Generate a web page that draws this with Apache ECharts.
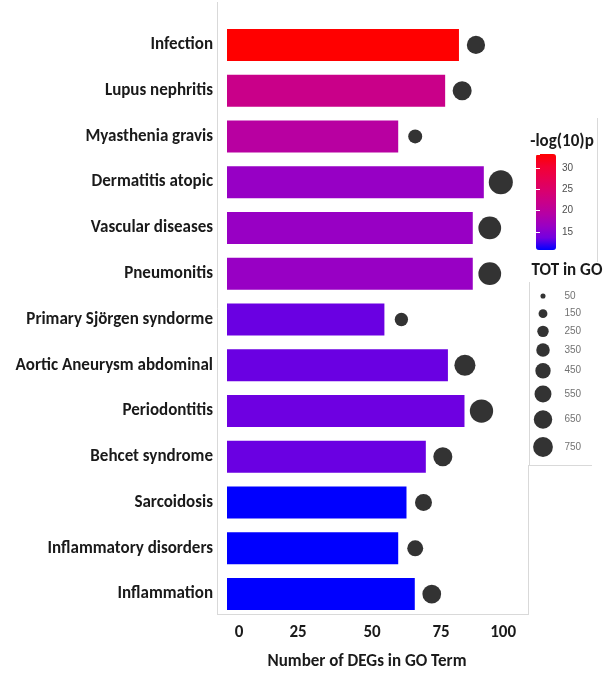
<!DOCTYPE html>
<html>
<head>
<meta charset="utf-8">
<script src="https://cdn.jsdelivr.net/npm/echarts@6/dist/echarts.min.js"></script>
<style>
  html, body { margin: 0; padding: 0; background: #ffffff; }
  #chart { width: 604px; height: 675px; }
</style>
</head>
<body>
<div id="chart"></div>
<script>
// Enriched disease terms, listed top to bottom
const terms = [
  'Infection', 'Lupus nephritis', 'Myasthenia gravis', 'Dermatitis atopic',
  'Vascular diseases', 'Pneumonitis', 'Primary Sjörgen syndorme',
  'Aortic Aneurysm abdominal', 'Periodontitis', 'Behcet syndrome',
  'Sarcoidosis', 'Inflammatory disorders', 'Inflammation'
];
// Number of DEGs in each term (bar length)
const degCount = [84, 79, 62, 93, 89, 89, 57, 80, 86, 72, 65, 62, 68];
// -log10(p) of each term (bar colour)
const negLogP = [33.3, 22.0, 19.6, 16.2, 16.3, 16.3, 13.4, 13.4, 13.5, 13.4, 10.8, 10.8, 10.8];
// Total genes annotated to each term (bubble size)
const totInGO = [450, 490, 265, 780, 700, 700, 240, 600, 735, 490, 390, 345, 475];

// Axis and legend ticks
const xTicks = [0, 25, 50, 75, 100];
const sizeLegendValues = [50, 150, 250, 350, 450, 550, 650, 750];

// Lab-like blue -> red ramp
const rampColors = ['#0000FF', '#7300E0', '#9A00C3', '#B500A5', '#C90089',
                    '#DA006C', '#E8004F', '#F40031', '#FF0000'];
const pMin = 10.8, pMax = 33.3;

const FONT = 'Carlito, Lato, "Open Sans", sans-serif';
const sizeOf = v => 0.86 * Math.sqrt(v);
const legendShrink = 0.84;

// Rows of the size key grow with the symbol they hold
const keyRowH = sizeLegendValues.map(v => Math.max(19, 1.55 * sizeOf(v) * legendShrink));
const keyY = [0];
for (let i = 1; i < sizeLegendValues.length; i++) {
  keyY.push(keyY[i - 1] + (keyRowH[i - 1] + keyRowH[i]) / 2);
}

// Tick labels sit a little right of their ticks
const tickNudge = { 0: 24, 25: 4, 50: 14, 75: 14, 100: 0 };
const tickRich = {};
xTicks.forEach(t => {
  tickRich['t' + t] = {
    fontFamily: FONT, fontWeight: 'bold', fontSize: 17, color: '#1a1a1a',
    padding: [0, 0, 0, tickNudge[t]]
  };
});

const chart = echarts.init(document.getElementById('chart'), null, { renderer: 'canvas' });
const frame = { stroke: '#d9d9d9', lineWidth: 1 };

chart.setOption({
  backgroundColor: '#ffffff',
  animation: false,
  grid: [
    { left: 227, right: 76, top: 22, bottom: 58 },
    { left: 536, top: 154, width: 20, height: 96 },
    { left: 533, top: 296, width: 20, height: 151 }
  ],
  xAxis: [
    {
      gridIndex: 0, type: 'value', min: 0, max: 109, interval: 25,
      axisLine: { show: false }, axisTick: { show: false }, splitLine: { show: false },
      axisLabel: {
        showMaxLabel: false, margin: 7, rich: tickRich,
        fontFamily: FONT, fontWeight: 'bold', fontSize: 17, color: '#1a1a1a',
        formatter: v => (xTicks.indexOf(v) >= 0 ? '{t' + v + '|' + v + '}' : '')
      }
    },
    { gridIndex: 1, type: 'value', show: false, min: 0, max: 1 },
    { gridIndex: 2, type: 'value', show: false, min: -1, max: 1 }
  ],
  yAxis: [
    {
      gridIndex: 0, type: 'category', data: terms, inverse: true,
      axisLine: { show: false }, axisTick: { show: false },
      axisLabel: {
        margin: 14, fontFamily: FONT, fontWeight: 'bold', fontSize: 17, color: '#1a1a1a'
      }
    },
    {
      gridIndex: 1, type: 'value', position: 'right', min: pMin, max: pMax, splitNumber: 5,
      z: 10,
      axisLine: { show: false }, splitLine: { show: false },
      axisTick: { show: true, inside: true, length: 4, lineStyle: { color: '#ffffff', width: 1 } },
      axisLabel: {
        showMinLabel: false, showMaxLabel: false, margin: 6,
        fontFamily: '"Liberation Sans", Arial, sans-serif', fontSize: 10, color: '#4d4d4d'
      }
    },
    {
      gridIndex: 1, type: 'value', position: 'left', min: pMin, max: pMax, splitNumber: 5,
      z: 10,
      axisLine: { show: false }, splitLine: { show: false }, axisLabel: { show: false },
      axisTick: { show: true, inside: true, length: 4, lineStyle: { color: '#ffffff', width: 1 } }
    },
    {
      gridIndex: 2, type: 'value', show: false, inverse: true, min: 0, max: 'dataMax'
    }
  ],
  visualMap: {
    type: 'continuous', seriesIndex: 0, dimension: 2,
    min: pMin, max: pMax, calculable: false, hoverLink: false,
    left: 536, top: 154, itemWidth: 20, itemHeight: 96, padding: 0,
    inRange: { color: rampColors }
  },
  series: [
    {
      type: 'bar', xAxisIndex: 0, yAxisIndex: 0, barWidth: 32,
      encode: { x: 0, y: 1 },
      data: degCount.map((v, i) => [v, i, negLogP[i]])
    },
    {
      type: 'scatter', xAxisIndex: 0, yAxisIndex: 0,
      encode: { x: 0, y: 1 },
      symbolOffset: [17, 0],
      symbolSize: d => sizeOf(d[2]),
      itemStyle: { color: '#333333', opacity: 1 },
      data: degCount.map((v, i) => [v, i, totInGO[i]])
    },
    {
      type: 'scatter', xAxisIndex: 2, yAxisIndex: 3,
      symbolSize: d => sizeOf(d[2]) * legendShrink,
      itemStyle: { color: '#333333', opacity: 1 },
      data: sizeLegendValues.map((v, i) => [0, keyY[i], v])
    },
    {
      type: 'scatter', xAxisIndex: 2, yAxisIndex: 3,
      symbolSize: 1, itemStyle: { color: 'rgba(0,0,0,0)' },
      label: {
        show: true, position: 'right', distance: 21,
        fontFamily: '"Liberation Sans", Arial, sans-serif', fontSize: 10, color: '#4d4d4d',
        formatter: p => String(p.value[2])
      },
      data: sizeLegendValues.map((v, i) => [0, keyY[i], v])
    }
  ],
  graphic: [
    // plot panel frame
    { type: 'line', shape: { x1: 217.5, y1: 2, x2: 217.5, y2: 614.5 }, style: frame, silent: true },
    { type: 'line', shape: { x1: 217, y1: 614.5, x2: 528.5, y2: 614.5 }, style: frame, silent: true },
    { type: 'line', shape: { x1: 528.5, y1: 465, x2: 528.5, y2: 615 }, style: frame, silent: true },
    // legend boxes
    { type: 'line', shape: { x1: 597.5, y1: 118, x2: 597.5, y2: 262 }, style: frame, silent: true },
    { type: 'line', shape: { x1: 529.5, y1: 282, x2: 529.5, y2: 465 }, style: frame, silent: true },
    { type: 'line', shape: { x1: 529, y1: 465.5, x2: 592, y2: 465.5 }, style: frame, silent: true },
    // titles
    {
      type: 'text', x: 562, y: 142, silent: true,
      style: { text: '-log(10)p', font: 'bold 17px ' + FONT, fill: '#1a1a1a',
               textAlign: 'center', textVerticalAlign: 'middle' }
    },
    {
      type: 'text', x: 567, y: 271, silent: true,
      style: { text: 'TOT in GO', font: 'bold 17px ' + FONT, fill: '#1a1a1a',
               textAlign: 'center', textVerticalAlign: 'middle' }
    },
    {
      type: 'text', x: 367, y: 662, silent: true,
      style: { text: 'Number of DEGs in GO Term', font: 'bold 17px ' + FONT, fill: '#1a1a1a',
               textAlign: 'center', textVerticalAlign: 'middle' }
    }
  ]
});
</script>
</body>
</html>
